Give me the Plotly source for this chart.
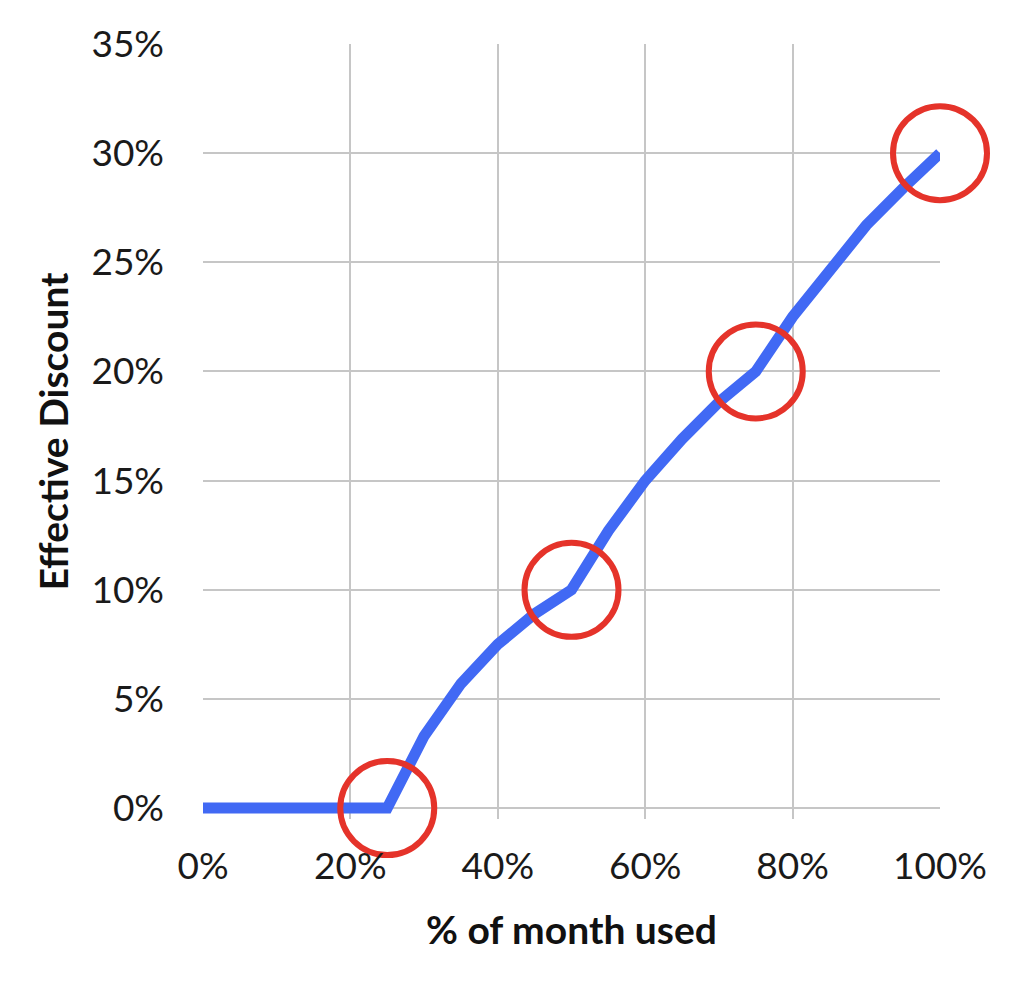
import plotly.graph_objects as go

# % of month used vs effective discount
month_used = [0, 5, 10, 15, 20, 25, 30, 35, 40, 45, 50, 55, 60, 65, 70, 75, 80, 85, 90, 95, 100]
discount = [0, 0, 0, 0, 0, 0, 3.3, 5.7, 7.5, 8.9, 10, 12.7, 15, 16.9, 18.6, 20, 22.5, 24.7, 26.7, 28.4, 30]

# tier break points that are circled
circled_x = [25, 50, 75, 100]
circled_y = [0, 10, 20, 30]

x_ticks = [0, 20, 40, 60, 80, 100]
x_labels = ["0%", "20%", "40%", "60%", "80%", "100%"]
y_ticks = [0, 5, 10, 15, 20, 25, 30, 35]
y_labels = ["0%", "5%", "10%", "15%", "20%", "25%", "30%", "35%"]

FONT = "Lato"
GRID = "#c6c6c6"

fig = go.Figure()

fig.add_trace(go.Scatter(
    x=month_used,
    y=discount,
    mode="lines",
    line=dict(color="#4169f4", width=11),
    hoverinfo="x+y",
    showlegend=False,
))

# red rings around the break points
fig.add_trace(go.Scatter(
    x=circled_x,
    y=circled_y,
    mode="markers",
    marker=dict(symbol="circle-open", size=94, color="#e5332a",
                line=dict(color="#e5332a", width=6)),
    cliponaxis=False,
    hoverinfo="skip",
    showlegend=False,
))

# the page body adds 8px, so margins are 8px smaller than the target positions
fig.update_layout(
    width=1024,
    height=981,
    margin=dict(l=195, r=92, t=34, b=170),
    plot_bgcolor="white",
    paper_bgcolor="white",
    font=dict(family=FONT, size=37, color="#1a1a1a"),
    xaxis=dict(
        range=[0, 100],
        tickmode="array",
        tickvals=x_ticks,
        ticktext=x_labels,
        showgrid=True,
        gridcolor=GRID,
        gridwidth=2,
        zeroline=False,
        showline=False,
        ticks="",
        ticklabelstandoff=22,
        title=dict(text="<b>% of month used</b>", font=dict(size=39, color="#111111"), standoff=30),
    ),
    yaxis=dict(
        range=[-0.5, 35],
        tickmode="array",
        tickvals=y_ticks,
        ticktext=y_labels,
        showgrid=True,
        gridcolor=GRID,
        gridwidth=2,
        zeroline=False,
        showline=False,
        ticks="",
        ticklabelstandoff=38,
        title=dict(text="<b>Effective Discount</b>", font=dict(size=39, color="#111111"), standoff=10),
    ),
)

fig.write_html("out.html")
